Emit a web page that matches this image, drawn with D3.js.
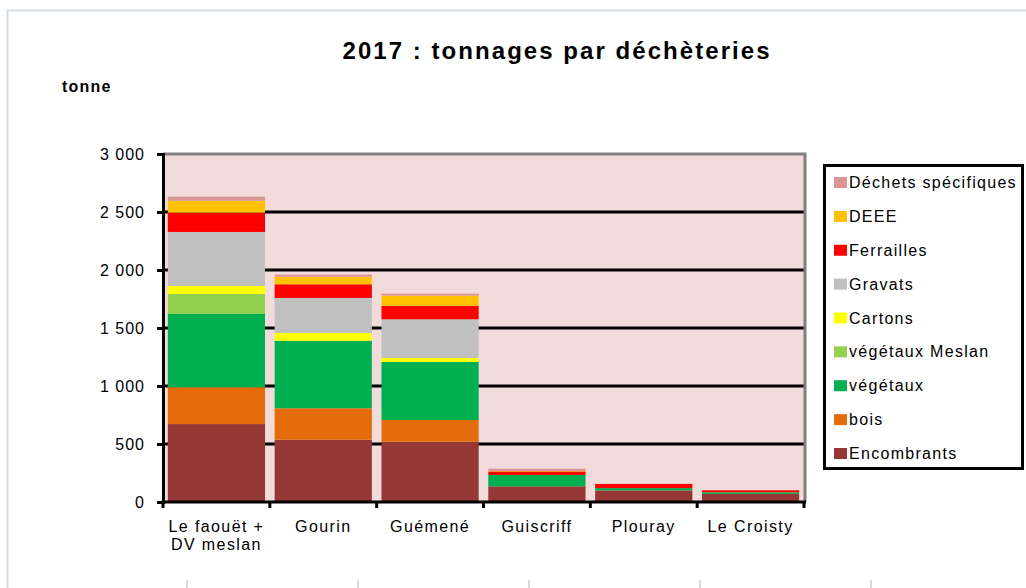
<!DOCTYPE html>
<html>
<head>
<meta charset="utf-8">
<script src="https://cdn.jsdelivr.net/npm/d3@7"></script>
<style>
  body { margin: 0; background: #fff; }
  svg { display: block; font-family: "Liberation Sans", Arial, sans-serif; }
</style>
</head>
<body>
<div id="chart"></div>
<script>
// tonnages 2017
const categories = ['Le faouët +\nDV meslan', 'Gourin', 'Guémené', 'Guiscriff', 'Plouray', 'Le Croisty']

const encombrants = [672, 537, 520, 135, 100, 70]
const bois = [317, 271, 187, 0, 0, 0]
const vegetaux = [632, 583, 500, 98, 20, 14]
const vegetauxMeslan = [172, 0, 0, 0, 0, 0]
const cartons = [69, 66, 34, 0, 0, 0]
const gravats = [466, 302, 334, 0, 0, 0]
const ferrailles = [166, 118, 117, 30, 36, 17]
const deee = [103, 65, 87, 4, 0, 0]
const dechetsSpecifiques = [35, 18, 17, 20, 0, 0]

const seriesNames = ['Encombrants', 'bois', 'végétaux', 'végétaux Meslan', 'Cartons', 'Gravats', 'Ferrailles', 'DEEE', 'Déchets spécifiques']
const seriesValues = [encombrants, bois, vegetaux, vegetauxMeslan, cartons, gravats, ferrailles, deee, dechetsSpecifiques]
const seriesColors = ['#953735', '#E46C0A', '#00B050', '#92D050', '#FFFF00', '#C0C0C0', '#FF0000', '#FFC000', '#D99694']

const yTicks = [0, 500, 1000, 1500, 2000, 2500, 3000]

const W = 1026
const H = 588
const plot = { left: 163, right: 804, top: 154, bottom: 502 }

const svg = d3.select('#chart')
  .append('svg')
  .attr('width', W)
  .attr('height', H)

// outer frame of the sheet
svg.append('path')
  .attr('d', 'M7.5,588V10.5H1026')
  .attr('fill', 'none')
  .attr('stroke', '#D5DBE5')
  .attr('stroke-width', 2)

svg.selectAll('.cell-tick')
  .data([187, 358, 529, 700, 871])
  .enter()
  .append('line')
  .attr('x1', d => d).attr('x2', d => d)
  .attr('y1', 580).attr('y2', 588)
  .attr('stroke', '#D5DBE5')
  .attr('stroke-width', 2)

const x = d3.scaleBand()
  .domain(categories)
  .range([plot.left, plot.right])
  .paddingInner(0.09)
  .paddingOuter(0.045)

const y = d3.scaleLinear()
  .domain([0, 3000])
  .range([plot.bottom, plot.top])

const color = d3.scaleOrdinal()
  .domain(seriesNames)
  .range(seriesColors)

// table for d3.stack
const table = categories.map((c, i) => {
  const row = { cat: c }
  seriesNames.forEach((s, j) => { row[s] = seriesValues[j][i] })
  return row
})
const stacked = d3.stack().keys(seriesNames)(table)

// plot background
svg.append('rect')
  .attr('x', plot.left)
  .attr('y', plot.top)
  .attr('width', plot.right - plot.left)
  .attr('height', plot.bottom - plot.top)
  .attr('fill', '#F2DCDB')

// grid lines
svg.selectAll('.grid')
  .data(yTicks.filter(d => d > 0 && d < 3000))
  .enter()
  .append('line')
  .attr('x1', plot.left).attr('x2', plot.right)
  .attr('y1', d => y(d)).attr('y2', d => y(d))
  .attr('stroke', '#000')
  .attr('stroke-width', 3)

// bars
svg.selectAll('.layer')
  .data(stacked)
  .enter()
  .append('g')
  .attr('fill', d => color(d.key))
  .selectAll('rect')
  .data(d => d)
  .enter()
  .append('rect')
  .attr('x', d => x(d.data.cat))
  .attr('width', x.bandwidth())
  .attr('y', d => y(d[1]))
  .attr('height', d => y(d[0]) - y(d[1]))

// top and right border of plot area
svg.append('path')
  .attr('d', `M${plot.left},${plot.top}H${plot.right + 1}V${plot.bottom}`)
  .attr('fill', 'none')
  .attr('stroke', '#808080')
  .attr('stroke-width', 3)

// y axis
const fr = d3.formatLocale({ decimal: ',', thousands: ' ', grouping: [3], currency: ['', ' €'] })
const yAxis = d3.axisLeft(y)
  .tickValues(yTicks)
  .tickSize(6)
  .tickPadding(12)
  .tickFormat(fr.format(',d'))

const gy = svg.append('g')
  .attr('transform', `translate(${plot.left},0)`)
  .call(yAxis)
gy.select('.domain').attr('stroke', '#000').attr('stroke-width', 3)
gy.selectAll('.tick line').attr('stroke', '#000').attr('stroke-width', 3)
gy.selectAll('.tick text')
  .attr('fill', '#000')
  .style('font-size', '16px')
  .style('letter-spacing', '1px')
  .style('font-family', '"Liberation Sans", Arial, sans-serif')

// x axis line and boundary ticks
svg.append('line')
  .attr('x1', plot.left - 1.5).attr('x2', plot.right + 2)
  .attr('y1', plot.bottom).attr('y2', plot.bottom)
  .attr('stroke', '#000')
  .attr('stroke-width', 3)

const bounds = categories.map((c, i) => plot.left + i * x.step())
bounds.push(plot.right)
svg.selectAll('.xtick')
  .data(bounds)
  .enter()
  .append('line')
  .attr('x1', d => d).attr('x2', d => d)
  .attr('y1', plot.bottom).attr('y2', plot.bottom + 6)
  .attr('stroke', '#000')
  .attr('stroke-width', 3)

// x labels
const xl = svg.selectAll('.xlabel')
  .data(categories)
  .enter()
  .append('text')
  .attr('text-anchor', 'middle')
  .attr('font-size', 16)
  .attr('letter-spacing', 1.4)
  .attr('fill', '#000')
xl.selectAll('tspan')
  .data(d => d.split('\n').map(t => ({ t, c: d })))
  .enter()
  .append('tspan')
  .attr('x', d => x(d.c) + x.bandwidth() / 2)
  .attr('y', (d, i) => plot.bottom + 30 + i * 18)
  .text(d => d.t)

// title and unit
svg.append('text')
  .attr('x', 556)
  .attr('y', 59)
  .attr('text-anchor', 'middle')
  .attr('font-size', 24)
  .attr('font-weight', 'bold')
  .attr('textLength', 427)
  .attr('lengthAdjust', 'spacing')
  .text('2017 : tonnages par déchèteries')

svg.append('text')
  .attr('x', 62)
  .attr('y', 92)
  .attr('font-size', 16)
  .attr('font-weight', 'bold')
  .attr('letter-spacing', 1.2)
  .text('tonne')

// legend
svg.append('rect')
  .attr('x', 824.5)
  .attr('y', 165.5)
  .attr('width', 198)
  .attr('height', 303)
  .attr('fill', '#fff')
  .attr('stroke', '#000')
  .attr('stroke-width', 3)

const legendItems = seriesNames.slice().reverse()
const ly = d3.scalePoint()
  .domain(legendItems)
  .range([182, 453])

const li = svg.selectAll('.legend-item')
  .data(legendItems)
  .enter()
  .append('g')
  .attr('transform', d => `translate(834,${ly(d)})`)
li.append('rect')
  .attr('x', 0)
  .attr('y', -5)
  .attr('width', 13)
  .attr('height', 11)
  .attr('fill', d => color(d))
li.append('text')
  .attr('x', 15)
  .attr('y', 6)
  .attr('font-size', 16)
  .attr('letter-spacing', 1.3)
  .text(d => d)
</script>
</body>
</html>
